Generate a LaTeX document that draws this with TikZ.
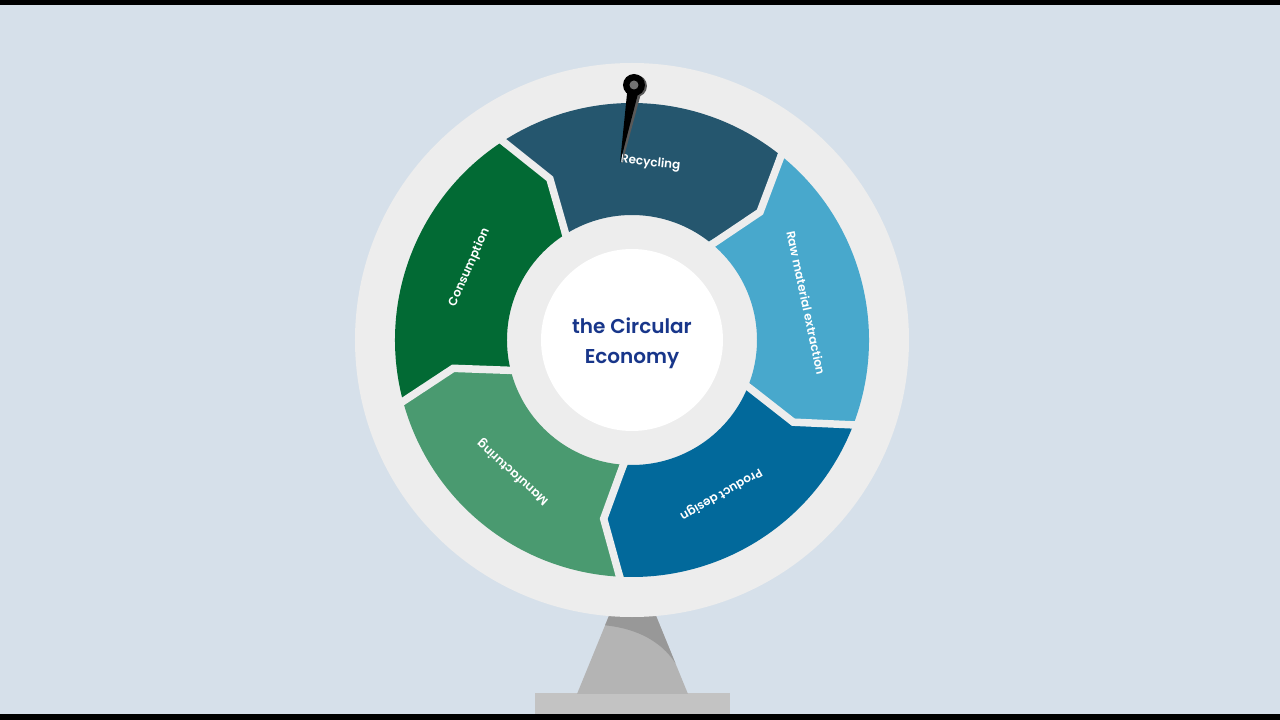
\documentclass[tikz,border=0pt]{standalone}
\usepackage{fontspec}
\setmainfont{Poppins}[BoldFont={* SemiBold}]
\usetikzlibrary{positioning}
\definecolor{bgBlue}{RGB}{214,224,234}
\definecolor{wheelGray}{RGB}{237,237,237}
\definecolor{segRec}{RGB}{37,86,110}
\definecolor{segRaw}{RGB}{72,168,204}
\definecolor{segProd}{RGB}{2,105,155}
\definecolor{segMan}{RGB}{74,154,112}
\definecolor{segCons}{RGB}{2,106,52}
\definecolor{titleBlue}{RGB}{24,54,138}
\definecolor{standLight}{RGB}{180,180,180}
\definecolor{standDark}{RGB}{152,152,152}
\definecolor{standBase}{RGB}{195,195,195}
\newcommand\rOut{237}
\newcommand\rIn{125}
\newcommand\rMid{181}

\begin{document}
\begin{tikzpicture}[x=1pt, y=1pt,
    seglabel/.style={text=white, font=\fontsize{12}{14}\selectfont\bfseries, inner sep=0pt},
    gapline/.style={wheelGray, line width=7.5pt, line join=miter}]
  % background and black bars
  \fill[bgBlue] (-632,-380) rectangle (648,340);
  \fill[black] (-632,335) rectangle (648,340);
  \fill[black] (-632,-374) rectangle (648,-380);
  % stand
  \fill[standBase] (-97,-353) rectangle (98,-374);
  \begin{scope}
    \clip (-14.5,-255) -- (15.5,-255) -- (56,-354) -- (-55,-354) -- cycle;
    \fill[standLight] (-60,-250) rectangle (60,-354);
    \fill[standDark] (-30,-250) -- (-30,-285) .. controls (5,-288) and (35,-302) .. (50,-335) -- (60,-335) -- (60,-250) -- cycle;
  \end{scope}
  % wheel
  \node[circle, fill=wheelGray, minimum size=554pt, inner sep=0pt] (wheel) at (0,0) {};
  \foreach \a/\clr/\txt [count=\i] in {124/segRec/Recycling, 52/segRaw/Raw material extraction, -20/segProd/Product design, -92/segMan/Manufacturing, -164/segCons/Consumption}{
    \fill[\clr] (\a:\rOut) arc[start angle=\a, end angle=\a-72, radius=\rOut] -- ({\a-79}:\rMid) -- ({\a-72}:\rIn)
      arc[start angle=\a-72, end angle=\a, radius=\rIn] -- ({\a-7}:\rMid) -- cycle;
    \node[seglabel, rotate=\a-130] (lbl\i) at ({\a-40}:178) {\txt};
  }
  \foreach \a in {124,52,-20,-92,-164}
    \draw[gapline] (\a:250) -- ({\a-7}:\rMid) -- (\a:112);
  \node[circle, fill=white, minimum size=182pt, inner sep=0pt] (hub) at (0,0) {};
  \node[text=titleBlue, font=\fontsize{20}{30}\selectfont\bfseries, align=center] (title) at (0,-3) {the Circular\\Economy};
  % pointer
  \coordinate (pivot) at (2,255);
  \coordinate (tip) at (-12,177);
  \fill[black!65] ([shift={(9,-1)}]pivot) -- ([shift={(-2,1)}]pivot) -- ([shift={(2,-1)}]tip) -- cycle;
  \fill[black!65] ([shift={(2,-1)}]pivot) circle[radius=11];
  \fill[black] ([shift={(6,-1)}]pivot) -- ([shift={(-6,1)}]pivot) -- (tip) -- cycle;
  \node[circle, fill=black, minimum size=22pt, inner sep=0pt] (knob) at (pivot) {};
  \node[circle, fill=black!55, minimum size=9pt, inner sep=0pt] (knobdot) at (pivot) {};
\end{tikzpicture}
\end{document}
